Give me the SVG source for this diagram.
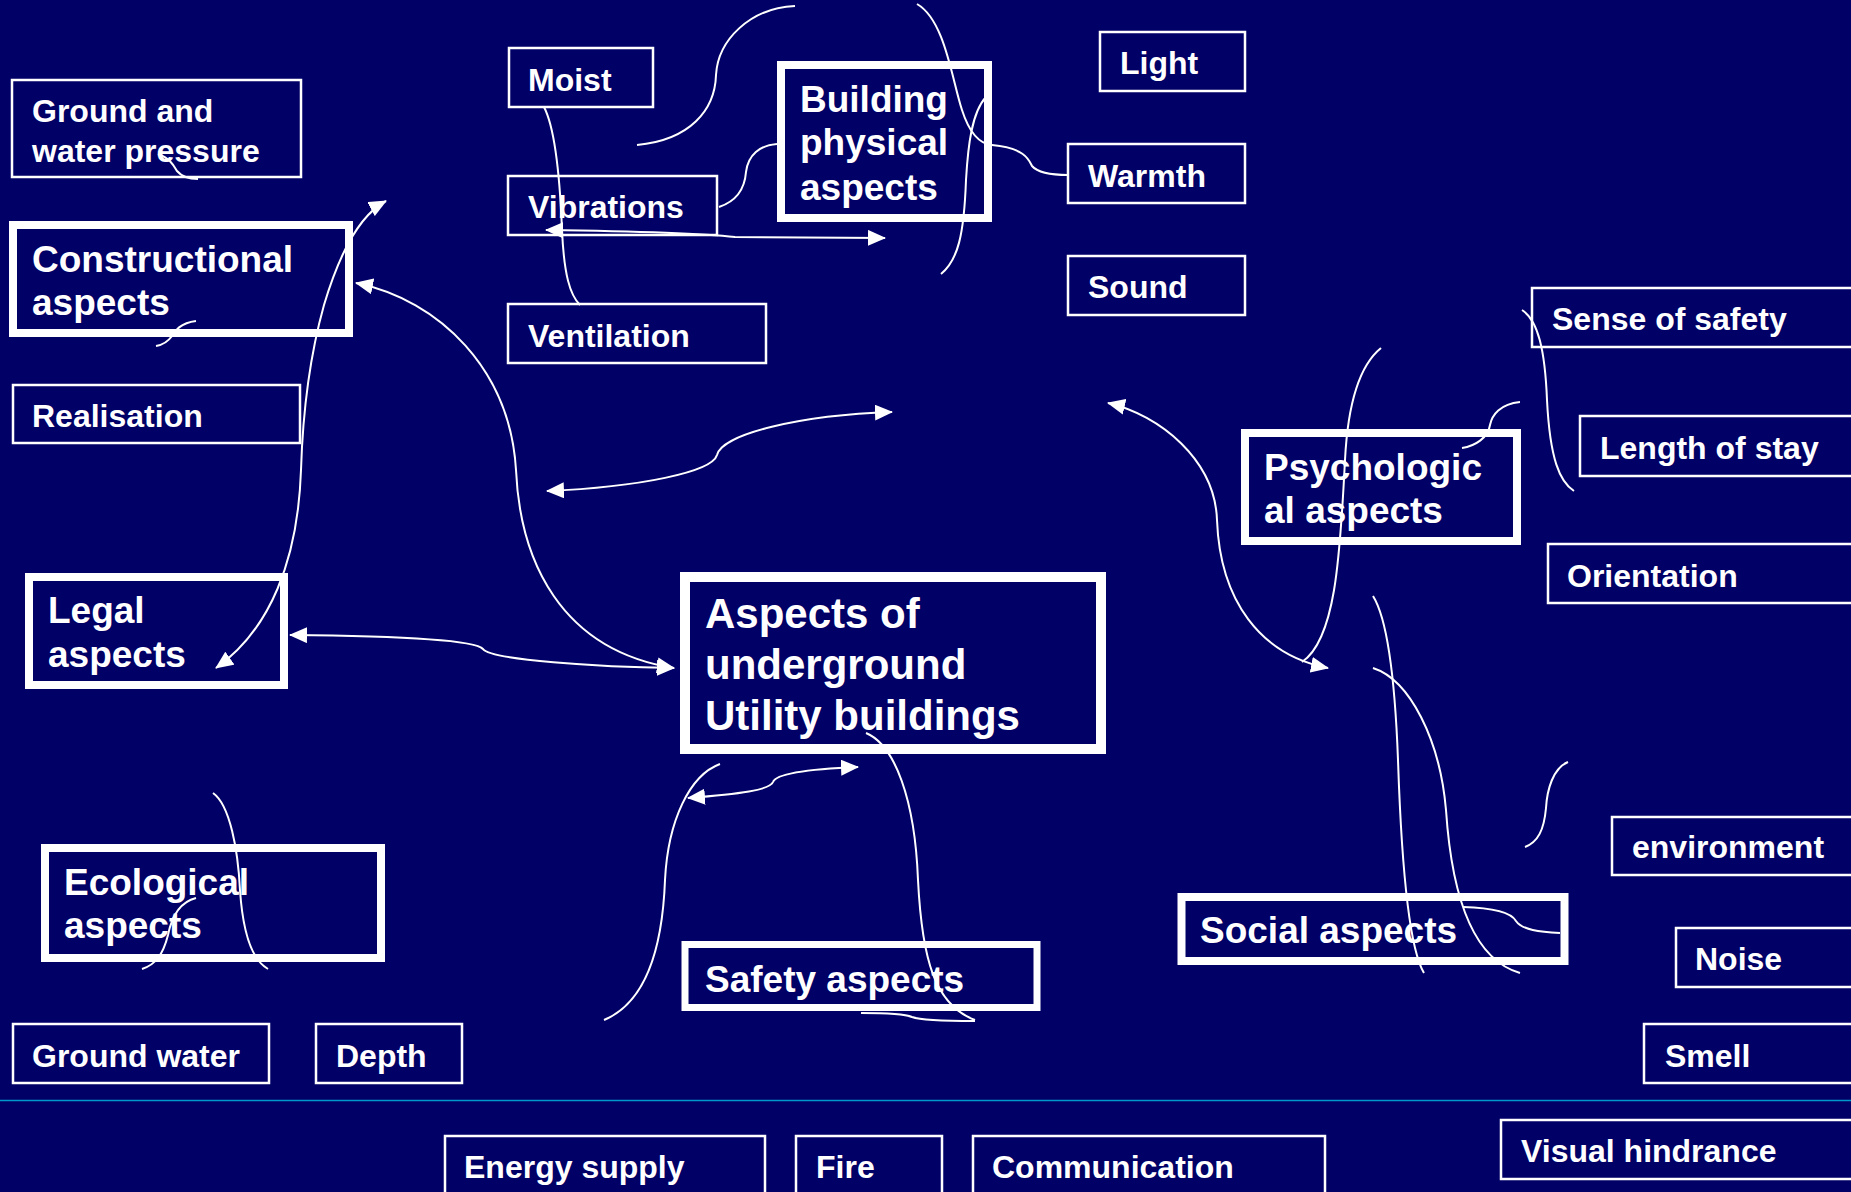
<svg xmlns="http://www.w3.org/2000/svg" width="1851" height="1192" viewBox="0 0 1851 1192">
<defs>
<style>
.bx{fill:none;stroke:#fff;stroke-width:2.5}
.tk{fill:none;stroke:#fff;stroke-width:8}
.t{font-family:"Liberation Sans",Arial,sans-serif;font-weight:bold;fill:#fff;font-size:32px}
.b{font-size:37px}
.c{font-size:42px}
.cn{fill:none;stroke:#fff;stroke-width:2}
</style>
<marker id="ah" viewBox="0 0 18 16" refX="17" refY="8" markerWidth="18" markerHeight="16" markerUnits="userSpaceOnUse" orient="auto-start-reverse"><path d="M0,0 L18,8 L0,16 z" fill="#fff"/></marker>
</defs>
<rect width="1851" height="1192" fill="#000066"/>
<line x1="0" y1="1100.5" x2="1851" y2="1100.5" stroke="#0099cc" stroke-width="1.5"/>

<g id="ground-water-pressure"><rect class="bx" x="12" y="80" width="289" height="97"/><text class="t" x="32" y="122">Ground and</text><text class="t" x="32" y="162">water pressure</text></g>
<g id="constructional"><rect class="tk" x="13" y="225" width="336" height="108"/><text class="t b" x="32" y="272">Constructional</text><text class="t b" x="32" y="315">aspects</text></g>
<g id="realisation"><rect class="bx" x="13" y="385" width="287" height="58"/><text class="t" x="32" y="427">Realisation</text></g>
<g id="legal"><rect class="tk" x="29" y="577" width="255" height="108"/><text class="t b" x="48" y="623">Legal</text><text class="t b" x="48" y="667">aspects</text></g>
<g id="ecological"><rect class="tk" x="45" y="848" width="336" height="110"/><text class="t b" x="64" y="895">Ecological</text><text class="t b" x="64" y="938">aspects</text></g>
<g id="ground-water"><rect class="bx" x="13" y="1024" width="256" height="59"/><text class="t" x="32" y="1067">Ground water</text></g>
<g id="depth"><rect class="bx" x="316" y="1024" width="146" height="59"/><text class="t" x="336" y="1067">Depth</text></g>
<g id="energy"><rect class="bx" x="445" y="1136" width="320" height="80"/><text class="t" x="464" y="1178">Energy supply</text></g>
<g id="fire"><rect class="bx" x="796" y="1136" width="146" height="80"/><text class="t" x="816" y="1178">Fire</text></g>
<g id="communication"><rect class="bx" x="973" y="1136" width="352" height="80"/><text class="t" x="992" y="1178">Communication</text></g>
<g id="visual"><rect class="bx" x="1501" y="1120" width="380" height="59"/><text class="t" x="1521" y="1162">Visual hindrance</text></g>
<g id="smell"><rect class="bx" x="1644" y="1024" width="240" height="59"/><text class="t" x="1665" y="1067">Smell</text></g>
<g id="noise"><rect class="bx" x="1676" y="928" width="200" height="59"/><text class="t" x="1695" y="970">Noise</text></g>
<g id="environment"><rect class="bx" x="1612" y="817" width="260" height="58"/><text class="t" x="1632" y="858">environment</text></g>
<g id="social"><rect class="tk" x="1181.5" y="897" width="383" height="64"/><text class="t b" x="1200" y="943">Social aspects</text></g>
<g id="safety"><rect class="tk" style="stroke-width:7" x="685" y="944.5" width="352" height="63"/><text class="t b" x="705" y="992">Safety aspects</text></g>
<g id="center"><rect class="tk" style="stroke-width:10" x="685" y="577" width="416" height="172"/><text class="t c" x="705" y="628">Aspects of</text><text class="t c" x="705" y="679">underground</text><text class="t c" x="705" y="730">Utility buildings</text></g>
<g id="orientation"><rect class="bx" x="1548" y="544" width="330" height="59"/><text class="t" x="1567" y="587">Orientation</text></g>
<g id="length"><rect class="bx" x="1580" y="416" width="300" height="60"/><text class="t" x="1600" y="459">Length of stay</text></g>
<g id="sense"><rect class="bx" x="1532" y="288" width="340" height="59"/><text class="t" x="1552" y="330">Sense of safety</text></g>
<g id="psych"><rect class="tk" x="1245" y="433" width="272" height="108"/><text class="t b" x="1264" y="480">Psychologic</text><text class="t b" x="1264" y="523">al aspects</text></g>
<g id="moist"><rect class="bx" x="509" y="48" width="144" height="59"/><text class="t" x="528" y="91">Moist</text></g>
<g id="vibrations"><rect class="bx" x="508" y="176" width="209" height="59"/><text class="t" x="528" y="218">Vibrations</text></g>
<g id="ventilation"><rect class="bx" x="508" y="304" width="258" height="59"/><text class="t" x="528" y="347">Ventilation</text></g>
<g id="building"><rect class="tk" x="781" y="65" width="207" height="153"/><text class="t b" x="800" y="112">Building</text><text class="t b" x="800" y="155">physical</text><text class="t b" x="800" y="200">aspects</text></g>
<g id="light"><rect class="bx" x="1100" y="32" width="145" height="59"/><text class="t" x="1120" y="74">Light</text></g>
<g id="warmth"><rect class="bx" x="1068" y="144" width="177" height="59"/><text class="t" x="1088" y="187">Warmth</text></g>
<g id="sound"><rect class="bx" x="1068" y="256" width="177" height="59"/><text class="t" x="1088" y="298">Sound</text></g>

<g id="connectors">
<path class="cn" d="M158,154 C170,158 174,166 177,171 C182,177 190,179 198,179"/>
<path class="cn" d="M196,321 C180,323 175,331 172,336 C167,343 162,345 156,346"/>
<path class="cn" marker-start="url(#ah)" marker-end="url(#ah)" d="M386,201 C358,216 338,258 324,305 C310,355 303,405 301,470 C298,560 270,630 216,668"/>
<path class="cn" marker-start="url(#ah)" marker-end="url(#ah)" d="M356,283 C440,300 510,370 516,470 C520,560 560,650 674,668"/>
<path class="cn" marker-start="url(#ah)" marker-end="url(#ah)" d="M290,635 C400,636 475,640 483,649 C490,660 600,667 674,668"/>
<path class="cn" marker-start="url(#ah)" marker-end="url(#ah)" d="M547,491 C640,487 712,472 717,455 C722,434 800,415 892,412"/>
<path class="cn" marker-start="url(#ah)" marker-end="url(#ah)" d="M688,798 C740,794 770,790 773,782 C776,773 810,769 858,767"/>
<path class="cn" d="M720,764 C690,775 668,820 665,880 C662,960 640,1005 604,1020"/>
<path class="cn" d="M866,733 C895,745 915,800 918,880 C922,960 935,1005 975,1020 M861,1013 C890,1013 905,1014 912,1017 C920,1020 950,1021 975,1021"/>
<path class="cn" d="M544,107 C556,130 560,180 562,230 C564,275 570,295 580,305"/>
<path class="cn" d="M637,145 C690,140 715,110 716,75 C718,40 750,8 795,6"/>
<path class="cn" d="M719,207 C740,200 745,185 746,172 C748,155 760,145 777,144"/>
<path class="cn" marker-start="url(#ah)" marker-end="url(#ah)" d="M546,230 C620,231 700,233 735,237 L885,238"/>
<path class="cn" d="M917,4 C945,20 952,80 962,110 C970,135 980,144 992,145 C1025,148 1029,160 1032,166 C1038,173 1052,175 1068,175"/>
<path class="cn" d="M986,97 C972,112 968,145 966,180 C964,235 958,260 941,274"/>
<path class="cn" d="M1522,310 C1538,320 1545,350 1547,400 C1550,460 1560,482 1574,491"/>
<path class="cn" d="M1520,402 C1500,404 1492,415 1490,425 C1488,438 1475,446 1462,448"/>
<path class="cn" d="M1381,348 C1360,365 1348,400 1345,460 C1340,560 1335,640 1302,662"/>
<path class="cn" marker-start="url(#ah)" marker-end="url(#ah)" d="M1108,403 C1160,415 1215,460 1217,520 C1220,600 1260,655 1328,668"/>
<path class="cn" d="M1373,596 C1388,620 1395,680 1398,760 C1402,880 1410,950 1424,973"/>
<path class="cn" d="M1373,668 C1410,680 1440,740 1446,810 C1452,900 1475,960 1520,973"/>
<path class="cn" d="M1463,907 C1500,908 1512,914 1516,921 C1522,930 1540,932 1560,933"/>
<path class="cn" d="M1568,762 C1553,768 1547,790 1546,808 C1544,830 1538,842 1525,847"/>
<path class="cn" d="M213,793 C230,805 238,850 240,890 C243,935 252,960 268,969"/>
<path class="cn" d="M196,898 C180,902 172,915 168,935 C163,955 155,965 142,969"/>
</g>
</svg>
